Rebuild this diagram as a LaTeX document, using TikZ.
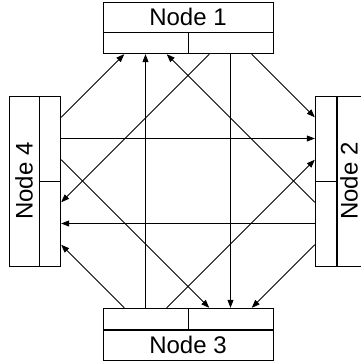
\documentclass[tikz,border=0pt]{standalone}
\usepackage{fontspec}
\setmainfont{Liberation Sans}
\usetikzlibrary{positioning,arrows.meta}

\tikzset{
  lbl/.style={draw, inner sep=0pt, font=\fontsize{24}{29}\selectfont},
  hpart/.style={draw, inner sep=0pt, minimum width=85pt, minimum height=21pt},
  vpart/.style={draw, inner sep=0pt, minimum width=21pt, minimum height=85pt},
}

\begin{document}
\begin{tikzpicture}[x=1pt,y=1pt,line width=0.8pt,>={Triangle[length=8pt,width=6pt]}]
      \useasboundingbox (0,0) rectangle (360,362);
      %% the four blocks
      \node[lbl,minimum width=170pt,minimum height=30pt] (1) at (188,345) {Node 1};
      \node[lbl,minimum width=170pt,minimum height=30pt] (3) at (188,17) {Node 3};
      \node[lbl,minimum width=30pt,minimum height=170pt] (4) at (24,181) {\rotatebox{90}{Node 4}};
      \node[lbl,minimum width=24pt,minimum height=170pt] (2) at (349,181) {\rotatebox{90}{Node 2}};
      %% in / out parts
      \node[hpart,anchor=north west] (1a) at (1.south west) {};
      \node[hpart,anchor=north east] (1b) at (1.south east) {};
      \node[hpart,anchor=south west] (3a) at (3.north west) {};
      \node[hpart,anchor=south east] (3b) at (3.north east) {};
      \node[vpart,anchor=north west] (4a) at (4.north east) {};
      \node[vpart,anchor=south west] (4b) at (4.south east) {};
      \node[vpart,anchor=north east] (2a) at (2.north west) {};
      \node[vpart,anchor=south east] (2b) at (2.south west) {};
      %% into node 1
      \draw[->] ([yshift=21.25pt]4a.east) -- ([xshift=-21.25pt]1a.south);
      \draw[->] (3a.north) -- (1a.south);
      \draw[->] ([yshift=21.25pt]2b.west) -- ([xshift=21.25pt]1a.south);
      %% into node 2
      \draw[->] ([xshift=21.25pt]1b.south) -- ([yshift=21.25pt]2a.west);
      \draw[->] (4a.east) -- (2a.west);
      \draw[->] ([xshift=21.25pt]3a.north) -- ([yshift=-21.25pt]2a.west);
      %% into node 4
      \draw[->] ([xshift=-21.25pt]1b.south) -- ([yshift=21.25pt]4b.east);
      \draw[->] (2b.west) -- (4b.east);
      \draw[->] ([xshift=-21.25pt]3a.north) -- ([yshift=-21.25pt]4b.east);
      %% into node 3
      \draw[->] ([yshift=-21.25pt]4a.east) -- ([xshift=-21.25pt]3b.north);
      \draw[->] (1b.south) -- (3b.north);
      \draw[->] ([yshift=-21.25pt]2b.west) -- ([xshift=21.25pt]3b.north);
\end{tikzpicture}
\end{document}
